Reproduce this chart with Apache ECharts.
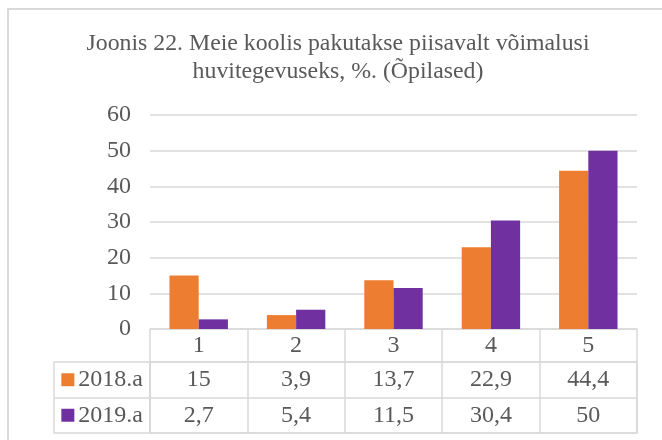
<!DOCTYPE html>
<html>
<head>
<meta charset="utf-8">
<script src="https://cdn.jsdelivr.net/npm/echarts@6/dist/echarts.min.js"></script>
<style>
html,body{margin:0;padding:0;background:#fff;}
#chart{width:662px;height:440px;}
</style>
</head>
<body>
<div id="chart"></div>
<script>
const titleText = 'Joonis 22. Meie koolis pakutakse piisavalt võimalusi\nhuvitegevuseks, %. (Õpilased)';
const categories = ['1', '2', '3', '4', '5'];
const seriesNames = ['2018.a', '2019.a'];
const values2018 = [15, 3.9, 13.7, 22.9, 44.4];
const values2019 = [2.7, 5.4, 11.5, 30.4, 50];
const yTicks = [0, 10, 20, 30, 40, 50, 60];
const colors = ['#ED7D31', '#7030A0'];

const FONT = "'Liberation Serif', 'Times New Roman', serif";
const TXT = '#595959';
const LINE = '#D9D9D9';
const FS = 24;

const seriesValues = [values2018, values2019];
const fmt = v => String(v).replace('.', ',');

const cellData = [];
seriesValues.forEach((arr, r) => arr.forEach((v, c) => cellData.push([c, r, v])));

const chart = echarts.init(document.getElementById('chart'));
chart.setOption({
  animation: false,
  backgroundColor: '#fff',
  textStyle: {fontFamily: FONT},
  title: {
    text: titleText,
    left: 333,
    textAlign: 'center',
    top: 25,
    textStyle: {fontFamily: FONT, fontSize: 23.8, fontWeight: 'normal', color: TXT, lineHeight: 28}
  },
  graphic: [{
    type: 'rect', silent: true, z: -1,
    shape: {x: 8, y: 9, width: 700, height: 500},
    style: {fill: 'none', stroke: LINE, lineWidth: 2}
  }],
  grid: [
    {left: 150, right: 25, top: 115, bottom: 111},
    {left: 150, right: 25, top: 362, bottom: 7, show: true, borderColor: LINE, borderWidth: 1.5}
  ],
  xAxis: [
    {
      type: 'category', gridIndex: 0, data: categories,
      axisLine: {show: true, lineStyle: {color: LINE, width: 1.5}},
      axisTick: {show: true, length: 33, lineStyle: {color: LINE, width: 1.5}},
      axisLabel: {fontFamily: FONT, fontSize: FS, color: TXT, margin: 5},
      splitLine: {show: false}
    },
    {
      type: 'category', gridIndex: 1, data: categories,
      axisLine: {show: false}, axisTick: {show: false}, axisLabel: {show: false},
      splitLine: {show: true, lineStyle: {color: LINE, width: 1.5}}
    }
  ],
  yAxis: [
    {
      type: 'value', gridIndex: 0, min: yTicks[0], max: yTicks[yTicks.length - 1], interval: 10,
      axisLine: {show: false}, axisTick: {show: false},
      axisLabel: {fontFamily: FONT, fontSize: FS, color: TXT, margin: 19},
      splitLine: {show: true, lineStyle: {color: LINE, width: 1.5}}
    },
    {
      type: 'category', gridIndex: 1, data: seriesNames, inverse: true,
      axisLine: {show: true, lineStyle: {color: LINE, width: 1.5}},
      axisTick: {show: true, length: 96, lineStyle: {color: LINE, width: 1.5}},
      axisLabel: {
        margin: 7, align: 'right',
        formatter: (v, i) => '{s' + i + '|}{t|' + v + '}',
        rich: {
          s0: {width: 13, height: 13, backgroundColor: colors[0]},
          s1: {width: 13, height: 13, backgroundColor: colors[1]},
          t: {fontFamily: FONT, fontSize: FS, color: TXT, padding: [0, 0, 0, 4]}
        }
      },
      splitLine: {show: true, lineStyle: {color: LINE, width: 1.5}}
    },
    {
      type: 'category', gridIndex: 1, data: seriesNames, inverse: true, position: 'left', offset: 96,
      axisLine: {show: true, lineStyle: {color: LINE, width: 1.5}},
      axisTick: {show: false}, axisLabel: {show: false}, splitLine: {show: false}
    }
  ],
  series: [
    {
      name: seriesNames[0], type: 'bar', xAxisIndex: 0, yAxisIndex: 0,
      data: values2018, itemStyle: {color: colors[0]},
      barGap: '0%', barCategoryGap: '40%'
    },
    {
      name: seriesNames[1], type: 'bar', xAxisIndex: 0, yAxisIndex: 0,
      data: values2019, itemStyle: {color: colors[1]},
      barGap: '0%', barCategoryGap: '40%'
    },
    {
      type: 'custom', xAxisIndex: 1, yAxisIndex: 1, data: cellData,
      renderItem: (params, api) => {
        const p = api.coord([api.value(0), api.value(1)]);
        return {
          type: 'text',
          style: {
            x: p[0], y: p[1], text: fmt(api.value(2)),
            textAlign: 'center', textVerticalAlign: 'middle',
            font: FS + 'px ' + FONT, fill: TXT
          }
        };
      }
    }
  ]
});
</script>
</body>
</html>
